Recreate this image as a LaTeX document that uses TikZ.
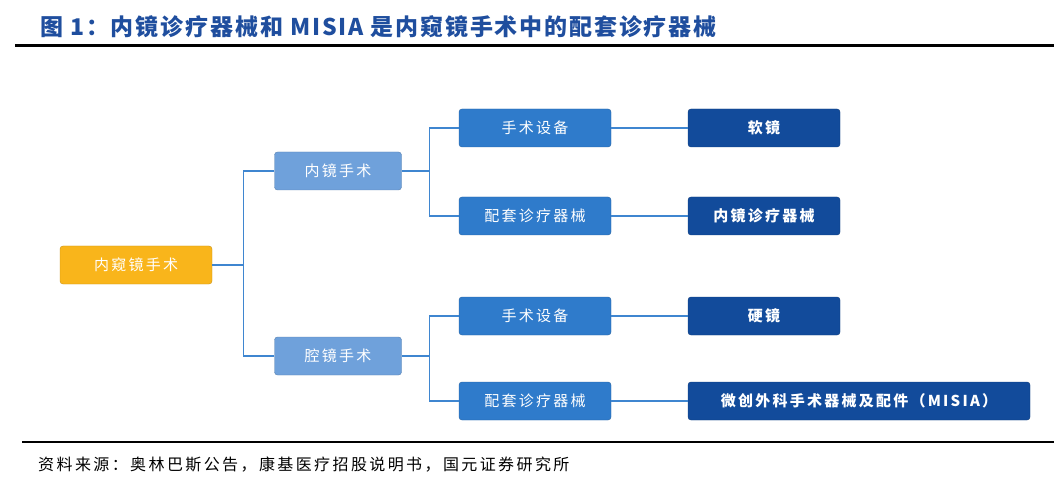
\documentclass[tikz,border=0pt]{standalone}
\usepackage{fontspec}
\setmainfont{Noto Sans CJK SC}
\newfontfamily\spaced{Noto Sans CJK SC}[LetterSpace=15]
\newfontfamily\titlefont{Noto Sans CJK SC}[LetterSpace=8]
\usetikzlibrary{positioning}
\definecolor{rootc}{HTML}{F9B51B}
\definecolor{lvlone}{HTML}{6FA1DB}
\definecolor{lvltwo}{HTML}{2F7BCB}
\definecolor{lvlthree}{HTML}{124B9B}
\definecolor{linec}{HTML}{3F86D0}
\definecolor{titlec}{HTML}{1F4E9E}
\tikzset{
  box/.style={draw=#1!80!black, fill=#1, rounded corners=3pt, minimum height=38pt, minimum width=152pt, text=white, font=\spaced\fontsize{15}{15}\selectfont, inner sep=0pt},
  bold/.style={font=\spaced\fontsize{15}{15}\selectfont\bfseries},
  link/.style={linec, line width=1.2pt}
}
\begin{document}
\begin{tikzpicture}[x=1pt, y=-1pt]
\useasboundingbox (0,0) rectangle (1054,486);
\node[anchor=west, text=titlec, font=\titlefont\fontsize{23}{23}\selectfont\bfseries, inner sep=0pt] (title) at (40,27) {图 1：内镜诊疗器械和 MISIA 是内窥镜手术中的配套诊疗器械};
\draw[line width=3pt] (15,46) -- (1054,46);
\node[box=rootc] (v0) at (136,265) {内窥镜手术};
\node[box=lvlone, minimum width=127pt] (v1) at (338,171) {内镜手术};
\node[box=lvlone, minimum width=127pt] (v2) at (338,356) {腔镜手术};
\node[box=lvltwo] (v3) at (535,128) {手术设备};
\node[box=lvltwo] (v4) at (535,216) {配套诊疗器械};
\node[box=lvltwo] (v5) at (535,316) {手术设备};
\node[box=lvltwo] (v6) at (535,401) {配套诊疗器械};
\node[box=lvlthree, bold] (v7) at (764,128) {软镜};
\node[box=lvlthree, bold] (v8) at (764,216) {内镜诊疗器械};
\node[box=lvlthree, bold] (v9) at (764,316) {硬镜};
\node[box=lvlthree, bold, minimum width=342pt] (v10) at (859,401) {微创外科手术器械及配件（MISIA）};
\foreach \u\v in {v1/v0, v2/v0}
  \draw[link] (\u.west) -- ++(-31,0) |- (\v.east);
\foreach \u\v in {v3/v1, v4/v1, v5/v2, v6/v2}
  \draw[link] (\u.west) -- ++(-29,0) |- (\v.east);
\foreach \u\v in {v3/v7, v4/v8, v5/v9, v6/v10}
  \draw[link] (\u) -- (\v);
\draw[line width=2.5pt] (22,442) -- (1054,442);
\node[anchor=west, font=\spaced\fontsize{16}{16}\selectfont, inner sep=0pt] (note) at (38,465) {资料来源：奥林巴斯公告，康基医疗招股说明书，国元证券研究所};
\end{tikzpicture}
\end{document}
